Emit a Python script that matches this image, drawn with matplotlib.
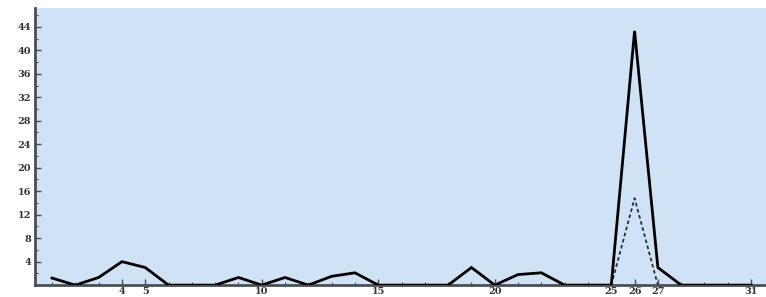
"""Line plot of counts per day, with a dashed secondary series around day 26."""

import numpy as np
import matplotlib.pyplot as plt
from matplotlib.ticker import MultipleLocator

# Data.
days = [1, 2, 3, 4, 5, 6, 7, 8, 9, 10, 11, 12, 13, 14, 15, 16,
        17, 18, 19, 20, 21, 22, 23, 24, 25, 26, 27, 28, 29, 30, 31]
total = [1.2, 0, 1.3, 4, 3, 0, 0, 0, 1.3, 0, 1.3, 0, 1.5, 2.1, 0, 0,
         0, 0, 3, 0, 1.8, 2.1, 0, 0, 0, 43.3, 3, 0, 0, 0, 0]
sub_days = [25, 26, 27]
subset = [0, 14.8, 0]

x_tick_values = [4, 5, 10, 15, 20, 25, 26, 27, 31]
y_tick_values = [4, 8, 12, 16, 20, 24, 28, 32, 36, 40, 44]

fig = plt.figure(figsize=(7.66, 2.97), dpi=100)
ax = fig.add_axes([0.0457, 0.04, 0.9543, 0.933])
ax.set_facecolor("#d0e2f6")

# Solid main series and dashed subset series.
ax.plot(days, total, color="black", linewidth=2.0, solid_joinstyle="miter",
        zorder=3)
ax.plot(sub_days, subset, color="#2a2f3a", linewidth=1.3,
        linestyle=(0, (2, 1.5)), zorder=2)

ax.set_xlim(0.27, 31.64)
ax.set_ylim(0, 47.2)

# Axes styling: only left and bottom axes, ticks pointing inward.
for side in ("top", "right"):
    ax.spines[side].set_visible(False)
for side in ("left", "bottom"):
    ax.spines[side].set_color("#4a4f57")
    ax.spines[side].set_linewidth(2.0)

ax.set_xticks(x_tick_values)
ax.xaxis.set_minor_locator(MultipleLocator(1))
ax.set_yticks(y_tick_values)
ax.yaxis.set_minor_locator(MultipleLocator(2))
ax.tick_params(axis="both", which="both", direction="in", color="#4a4f57")
ax.tick_params(axis="both", which="major", length=4, width=1.0)
ax.tick_params(axis="both", which="minor", length=2.5, width=0.8)
ax.tick_params(axis="x", pad=1)
ax.tick_params(axis="y", pad=3)

for label in ax.get_xticklabels() + ax.get_yticklabels():
    label.set_fontfamily("DejaVu Serif")
    label.set_fontweight("bold")
    label.set_fontsize(7)
    label.set_color("#333333")

fig.savefig("out.png", dpi=100, facecolor="white")
